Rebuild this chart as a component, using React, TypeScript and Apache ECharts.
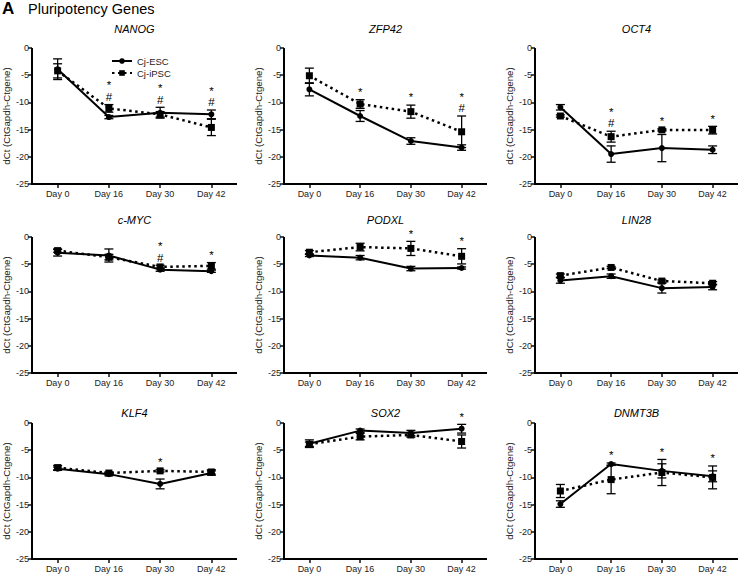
import React, { useEffect, useRef } from "react";
import * as echarts from "echarts";

const days = ["Day 0", "Day 16", "Day 30", "Day 42"];
const genes = ["NANOG", "ZFP42", "OCT4", "c-MYC", "PODXL", "LIN28", "KLF4", "SOX2", "DNMT3B"];
const seriesNames = ["Cj-ESC", "Cj-iPSC"];

const escMean = [
  [-3.9, -12.7, -11.9, -12.2],
  [-7.6, -12.5, -17.1, -18.3],
  [-10.9, -19.5, -18.4, -18.7],
  [-2.9, -3.4, -6.0, -6.3],
  [-3.4, -3.8, -5.8, -5.7],
  [-8.0, -7.2, -9.4, -9.2],
  [-8.4, -9.4, -11.2, -9.2],
  [-3.8, -1.4, -1.85, -1.05],
  [-14.9, -7.55, -8.8, -9.8],
];
const escErr = [
  [1.9, 0.3, 1.0, 0.8],
  [1.2, 1.0, 0.6, 0.5],
  [0.5, 1.5, 2.5, 0.7],
  [0.6, 1.2, 0.3, 0.2],
  [0.2, 0.4, 0.4, 0.2],
  [0.5, 0.4, 0.9, 0.5],
  [0.3, 0.3, 0.9, 0.4],
  [0.7, 0.3, 0.5, 0.8],
  [0.6, 0.2, 1.3, 1.0],
];
const ipscMean = [
  [-4.2, -11.1, -12.2, -14.6],
  [-5.1, -10.3, -11.7, -15.4],
  [-12.5, -16.3, -15.05, -15.1],
  [-2.5, -3.7, -5.5, -5.3],
  [-2.8, -1.85, -2.1, -3.55],
  [-7.1, -5.6, -8.1, -8.5],
  [-8.2, -9.2, -8.8, -9.0],
  [-3.9, -2.5, -2.2, -3.4],
  [-12.5, -10.4, -9.1, -10.0],
];
const ipscErr = [
  [1.3, 0.7, 0.5, 1.5],
  [1.4, 0.8, 1.2, 2.9],
  [0.2, 1.0, 0.2, 0.7],
  [0.3, 0.5, 0.3, 0.6],
  [0.3, 0.7, 1.3, 1.4],
  [0.3, 0.2, 0.2, 0.3],
  [0.4, 0.2, 0.2, 0.4],
  [0.4, 0.6, 0.4, 1.2],
  [1.2, 2.6, 2.4, 2.1],
];
const marks = [
  ["", "*#", "*#", "*#"],
  ["", "*", "*", "*#"],
  ["", "*#", "*", "*"],
  ["", "", "*#", "*"],
  ["", "", "*", "*"],
  ["", "", "", ""],
  ["", "", "*", ""],
  ["", "", "", "*"],
  ["", "*", "*", "*"],
];

const FONT = "'Liberation Sans', Arial, sans-serif";
const colLayout = [
  { left: 32, width: 205 },
  { left: 284, width: 203 },
  { left: 535, width: 203 },
];
const rowLayout = [
  { top: 48, height: 136, titleY: 29 },
  { top: 237, height: 136, titleY: 220 },
  { top: 423, height: 136, titleY: 413 },
];

export default function App() {
  const ref = useRef<HTMLDivElement>(null);
  useEffect(() => {
    document.body.style.margin = "0";
    if (!ref.current) return;
    const chart = echarts.init(ref.current, undefined, { renderer: "svg" });

    const grids: any[] = [];
    const xAxes: any[] = [];
    const yAxes: any[] = [];
    const series: any[] = [];
    const graphics: any[] = [
      {
        type: "text", x: 2, y: 8,
        style: { text: "A", fontSize: 17, fontWeight: "bold", fontFamily: FONT, fill: "#000", verticalAlign: "middle" },
      },
      {
        type: "text", x: 28, y: 9,
        style: { text: "Pluripotency Genes", fontSize: 14.5, fontFamily: FONT, fill: "#000", verticalAlign: "middle" },
      },
    ];

    const errRender = (params: any, api: any) => {
      const x = api.value(0);
      const lo = api.coord([x, api.value(1)]);
      const hi = api.coord([x, api.value(2)]);
      const hw = 4.5;
      const st = { stroke: "#000", lineWidth: 1.3 };
      return {
        type: "group",
        children: [
          { type: "line", shape: { x1: lo[0], y1: lo[1], x2: hi[0], y2: hi[1] }, style: st },
          { type: "line", shape: { x1: lo[0] - hw, y1: lo[1], x2: lo[0] + hw, y2: lo[1] }, style: st },
          { type: "line", shape: { x1: hi[0] - hw, y1: hi[1], x2: hi[0] + hw, y2: hi[1] }, style: st },
        ],
      };
    };

    // axis frame (L shape) drawn from the grid's own coordinate system
    const frameRender = (params: any) => {
      const cs = params.coordSys;
      return {
        type: "polyline",
        shape: {
          points: [
            [cs.x, cs.y],
            [cs.x, cs.y + cs.height],
            [cs.x + cs.width, cs.y + cs.height],
          ],
        },
        style: { stroke: "#000", lineWidth: 2, fill: "none" },
      };
    };

    genes.forEach((g, i) => {
      const c = colLayout[i % 3];
      const r = rowLayout[Math.floor(i / 3)];
      grids.push({ show: false, borderWidth: 0, left: c.left, width: c.width, top: r.top, height: r.height });
      graphics.push({
        type: "text",
        x: c.left + c.width / 2,
        y: r.titleY,
        style: {
          text: g, fontSize: 11, fontStyle: "italic", fontFamily: FONT, fill: "#000",
          align: "center", verticalAlign: "middle",
        },
      });
      xAxes.push({
        type: "category",
        gridIndex: i,
        position: "bottom",
        data: days,
        boundaryGap: true,
        splitLine: { show: false },
        axisLine: { show: false, onZero: false },
        axisTick: { show: true, alignWithLabel: true, length: 4, lineStyle: { width: 1.5, color: "#111" } },
        axisLabel: { fontSize: 9, color: "#222", margin: 5, fontFamily: FONT },
      });
      yAxes.push({
        type: "value",
        gridIndex: i,
        position: "left",
        min: -25,
        max: 0,
        interval: 5,
        name: "dCt (CtGapdh-Ctgene)",
        nameLocation: "middle",
        nameGap: 21,
        nameTextStyle: { fontSize: 9.7, color: "#222", fontFamily: FONT },
        splitLine: { show: false },
        axisLine: { show: false, onZero: false },
        axisTick: { show: true, length: 4, lineStyle: { width: 1.5, color: "#111" } },
        axisLabel: { fontSize: 9, color: "#222", margin: 3, fontFamily: FONT },
      });

      series.push({
        type: "custom", xAxisIndex: i, yAxisIndex: i, renderItem: frameRender,
        data: [[0, -25]], encode: { x: 0, y: 1 }, z: 1, silent: true, clip: false,
      });
      const escErrData = days.map((_, k) => [k, escMean[i][k] - escErr[i][k], escMean[i][k] + escErr[i][k]]);
      const ipscErrData = days.map((_, k) => [k, ipscMean[i][k] - ipscErr[i][k], ipscMean[i][k] + ipscErr[i][k]]);
      series.push({
        type: "custom", xAxisIndex: i, yAxisIndex: i, renderItem: errRender,
        data: escErrData, encode: { x: 0, y: [1, 2] }, z: 2, silent: true,
      });
      series.push({
        type: "custom", xAxisIndex: i, yAxisIndex: i, renderItem: errRender,
        data: ipscErrData, encode: { x: 0, y: [1, 2] }, z: 2, silent: true,
      });
      series.push({
        name: seriesNames[0], type: "line", xAxisIndex: i, yAxisIndex: i,
        data: escMean[i], symbol: "circle", symbolSize: 6,
        lineStyle: { color: "#000", width: 2 }, itemStyle: { color: "#000" }, z: 3,
      });
      series.push({
        name: seriesNames[1], type: "line", xAxisIndex: i, yAxisIndex: i,
        data: ipscMean[i], symbol: "rect", symbolSize: 7,
        lineStyle: { color: "#000", width: 2.5, type: [2.5, 3.5] }, itemStyle: { color: "#000" }, z: 3,
      });
      const labels: string[] = [];
      const annData: number[][] = [];
      days.forEach((_, k) => {
        if (marks[i][k]) {
          labels.push(marks[i][k]);
          annData.push([k, Math.max(escMean[i][k] + escErr[i][k], ipscMean[i][k] + ipscErr[i][k])]);
        }
      });
      series.push({
        type: "custom", xAxisIndex: i, yAxisIndex: i, silent: true, z: 4,
        data: annData, encode: { x: 0, y: 1 },
        renderItem: (params: any, api: any) => {
          const p = api.coord([api.value(0), api.value(1)]);
          const lab = labels[params.dataIndex];
          const hasHash = lab.indexOf("#") >= 0;
          return {
            type: "text",
            x: p[0],
            y: p[1] - 2,
            style: {
              text: hasHash ? "*\n#" : "*",
              fontSize: 11.5,
              lineHeight: 11.5,
              fontFamily: FONT,
              fill: "#000",
              align: "center",
              verticalAlign: "bottom",
            },
          };
        },
      });
    });

    chart.setOption({
      animation: false,
      backgroundColor: "#fff",
      textStyle: { fontFamily: FONT },
      grid: grids,
      xAxis: xAxes,
      yAxis: yAxes,
      series,
      graphic: graphics,
      legend: {
        data: seriesNames,
        orient: "vertical",
        left: 106,
        top: 51,
        itemWidth: 20,
        itemHeight: 7,
        itemGap: 2,
        textStyle: { fontSize: 9.5, color: "#222", fontFamily: FONT },
      },
    });
    return () => chart.dispose();
  }, []);
  return <div ref={ref} style={{ width: 741, height: 576 }} />;
}
